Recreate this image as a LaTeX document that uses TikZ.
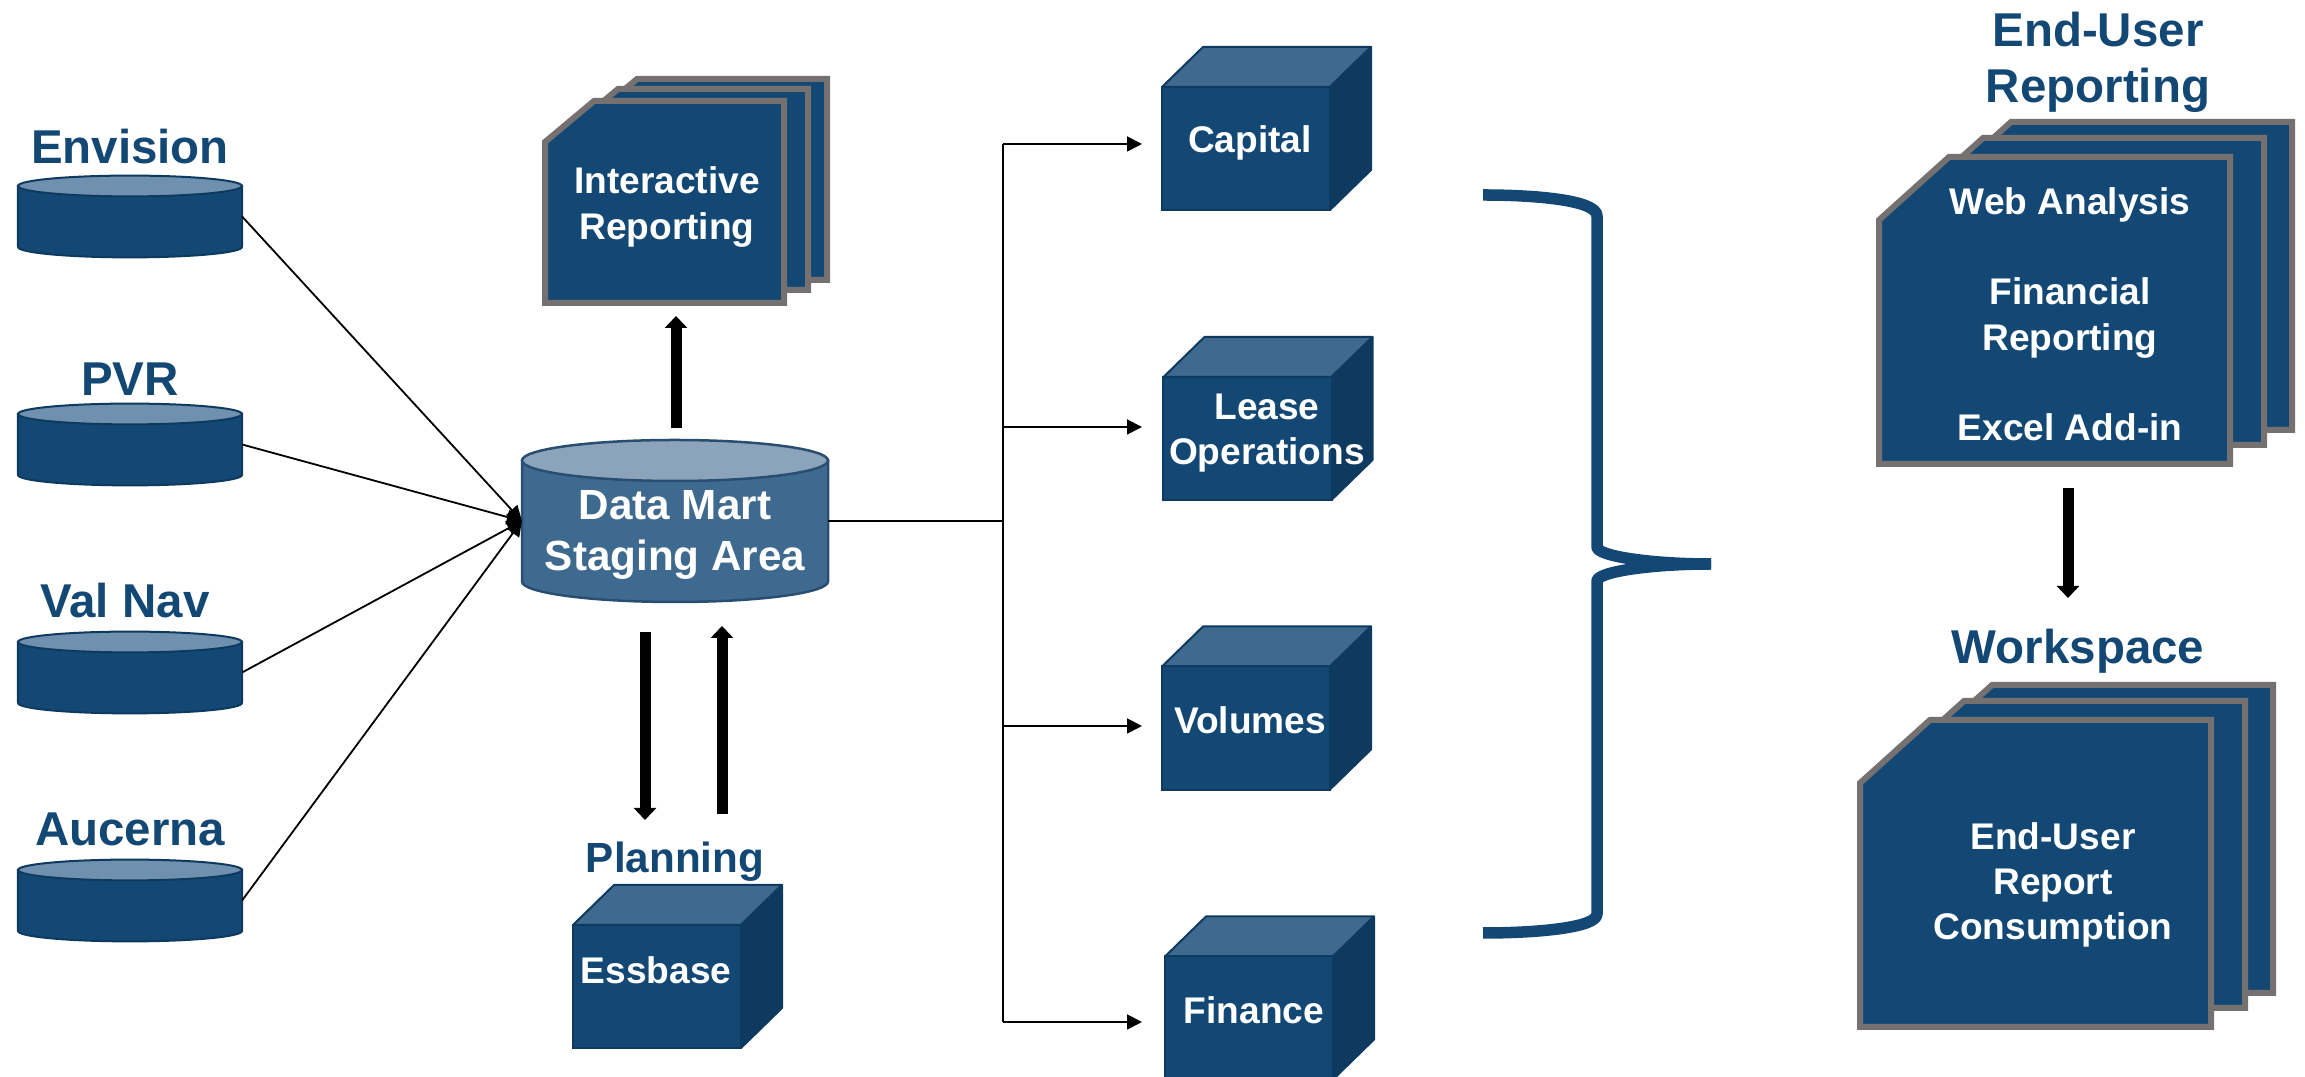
\documentclass[tikz,border=0pt]{standalone}
\usepackage{fontspec}
\setmainfont{Liberation Sans}
\usetikzlibrary{arrows.meta}
\definecolor{mainblue}{HTML}{134874}
\definecolor{darkblue}{HTML}{0E3A5F}
\definecolor{midblue}{HTML}{3F6A8F}
\definecolor{paleblue}{HTML}{8BA3BB}
\definecolor{topblue}{HTML}{6F90AE}
\definecolor{martedge}{HTML}{2A4E72}
\definecolor{sheetgrey}{HTML}{767171}
\tikzset{
	titletext/.style={font=\fontsize{13.5}{15.9}\selectfont\bfseries, text=mainblue, align=center, inner sep=0},
	planningtext/.style={font=\fontsize{12}{14}\selectfont\bfseries, text=mainblue, align=center, inner sep=0},
	whitetext/.style={font=\fontsize{10.55}{12.8}\selectfont\bfseries, text=white, align=center, inner sep=0},
	marttext/.style={font=\fontsize{12}{14.5}\selectfont\bfseries, text=white, align=center, inner sep=0},
	smallbody/.style={draw=darkblue, line width=0.02cm, fill=mainblue},
	smalltop/.style={draw=darkblue, line width=0.02cm, fill=topblue},
	bigbody/.style={draw=martedge, line width=0.025cm, fill=midblue},
	bigtop/.style={draw=martedge, line width=0.025cm, fill=paleblue},
	drumbox/.style={inner sep=0, outer sep=0},
	cubeface/.style={draw=darkblue, line width=0.02cm, fill=mainblue, minimum width=1.68cm, minimum height=1.23cm, inner sep=0, outer sep=0},
	cubetop/.style={draw=darkblue, line width=0.02cm, fill=midblue, line join=round},
	cubeside/.style={draw=darkblue, line width=0.02cm, fill=darkblue, line join=round},
	sheetface/.style={draw=sheetgrey, line width=0.06cm, fill=mainblue, line join=miter},
	thinline/.style={line width=0.018cm, color=black},
	thinarrow/.style={line width=0.018cm, color=black, -{Triangle[width=0.15cm,length=0.15cm]}},
	fatarrow/.style={line width=0.11cm, color=black, -{Triangle[width=0.22cm,length=0.12cm]}},
	bracestroke/.style={line width=0.115cm, color=mainblue, line join=round}
}
\def\drum(#1)(#2,#3)(#4,#5,#6)#7#8{%
	\draw[#7] (#2-#4,#3-#5) -- (#2-#4,#3+#5) arc[start angle=180, end angle=360, x radius=#4*0.01cm, y radius=#6*0.01cm] -- (#2+#4,#3-#5) -- cycle;
	\draw[#8] (#2,#3-#5) ellipse [x radius=#4*0.01cm, y radius=#6*0.01cm];
	\node[drumbox, minimum width=#4*0.02cm, minimum height=#5*0.02cm] (#1) at (#2,#3) {};
}
\def\cubeblock(#1)(#2,#3){%
	\draw[cubetop] (#2-84,#3-61.5) -- ++(41,-40) -- ++(168,0) -- ++(-41,40) -- cycle;
	\draw[cubeside] (#2+84,#3-61.5) -- ++(41,-40) -- ++(0,123) -- ++(-41,40) -- cycle;
	\node[cubeface] (#1) at (#2,#3) {};
}
\def\sheet(#1,#2,#3,#4)(#5,#6){\draw[sheetface] (#1,#2+#6) -- (#1+#5,#2) -- (#3,#2) -- (#3,#4) -- (#1,#4) -- cycle;}

\begin{document}
\begin{tikzpicture}[x=0.01cm,y=-0.01cm]
	%%%%% START %%%%%
	\useasboundingbox (0,0) rectangle (2305,1077);
	
	% sources
	\node[titletext] (envisiontitle) at (130,147) {Envision};
	\drum(envision)(130,216.5)(112,30.5,10.4){smallbody}{smalltop}
	\node[titletext] (pvrtitle) at (130,379) {PVR};
	\drum(pvr)(130,444.5)(112,30.5,10.4){smallbody}{smalltop}
	\node[titletext] (valnavtitle) at (125,601) {Val Nav};
	\drum(valnav)(130,672.5)(112,30.5,10.4){smallbody}{smalltop}
	\node[titletext] (aucernatitle) at (130,829.5) {Aucerna};
	\drum(aucerna)(130,900.5)(112,30.5,10.4){smallbody}{smalltop}
	
	% staging area
	\drum(datamart)(675,521)(153,60.5,20.5){bigbody}{bigtop}
	\node[marttext] (datamarttext) at (675,535) {Data Mart\\Staging Area};
	
	\draw[thinarrow] (envision.east) -- (datamart.west);
	\draw[thinarrow] (pvr.east) -- (datamart.west);
	\draw[thinarrow] (valnav.east) -- (datamart.west);
	\draw[thinarrow] (aucerna.east) -- (datamart.west);
	
	% interactive reporting
	\sheet(588,79,827,280)(49,41)
	\sheet(569,89,808,290)(49,41)
	\sheet(545,101,784,303)(49,41)
	\node[whitetext] (interactivetext) at (667,207) {Interactive\\Reporting};
	
	\coordinate (upstart) at (676,428);
	\coordinate (upend) at (676,316);
	\draw[fatarrow] (upstart) -- (upend);
	
	% planning
	\coordinate (downstart) at (645,632);
	\coordinate (downend) at (645,820);
	\coordinate (backstart) at (722,814);
	\coordinate (backend) at (722,626);
	\draw[fatarrow] (downstart) -- (downend);
	\draw[fatarrow] (backstart) -- (backend);
	\node[planningtext] (planningtitle) at (675,862) {Planning};
	\cubeblock(essbase)(657,986.5)
	\node[whitetext] (essbasetext) at (656,970) {Essbase};
	
	% cubes
	\cubeblock(capital)(1246,148.5)
	\node[whitetext] (capitaltext) at (1250,143) {Capital};
	\cubeblock(lease)(1247.5,438.5)
	\node[whitetext] (leasetext) at (1267,433) {Lease\\Operations};
	\cubeblock(volumes)(1246,728)
	\node[whitetext] (volumestext) at (1250,720) {Volumes};
	\cubeblock(finance)(1249,1018)
	\node[whitetext] (financetext) at (1254,1010) {Finance};
	
	\coordinate (trunk) at (1003,521);
	\coordinate (capitalin) at (1142,144);
	\coordinate (leasein) at (1142,427);
	\coordinate (volumesin) at (1142,726);
	\coordinate (financein) at (1142,1022);
	\draw[thinline] (datamart.east) -- (trunk);
	\draw[thinline] (trunk |- capitalin) -- (trunk |- financein);
	\draw[thinarrow] (trunk |- capitalin) -- (capitalin);
	\draw[thinarrow] (trunk |- leasein) -- (leasein);
	\draw[thinarrow] (trunk |- volumesin) -- (volumesin);
	\draw[thinarrow] (trunk |- financein) -- (financein);
	
	% brace
	\draw[bracestroke] (1483,195) .. controls (1535,195) and (1597,200) .. (1597,216) -- (1597,547) .. controls (1597,556) and (1650,564) .. (1711,564);
	\draw[bracestroke] (1711,564) .. controls (1650,564) and (1597,572) .. (1597,581) -- (1597,914) .. controls (1597,928) and (1535,933) .. (1483,933);
	
	% end-user reporting
	\node[titletext] (enduserreporting) at (2098,62) {End-User\\Reporting};
	\sheet(1941,122,2292,430)(70,63)
	\sheet(1913,138,2264,445)(70,63)
	\sheet(1879,157,2230,464)(70,63)
	\node[whitetext] (webtext) at (2070,205) {Web Analysis};
	\node[whitetext] (financialtext) at (2070,318) {Financial\\Reporting};
	\node[whitetext] (exceltext) at (2070,427) {Excel Add-in};
	
	\coordinate (reportstart) at (2068,488);
	\coordinate (reportend) at (2068,598);
	\draw[fatarrow] (reportstart) -- (reportend);
	
	% workspace
	\node[titletext] (workspacetitle) at (2078,651) {Workspace};
	\sheet(1922,685,2273,993)(70,63)
	\sheet(1894,701,2245,1008)(70,63)
	\sheet(1860,720,2211,1027)(70,63)
	\node[whitetext] (consumptiontext) at (2053,885) {End-User\\Report\\Consumption};
	
	%%%%% END %%%%%
\end{tikzpicture}
\end{document}
